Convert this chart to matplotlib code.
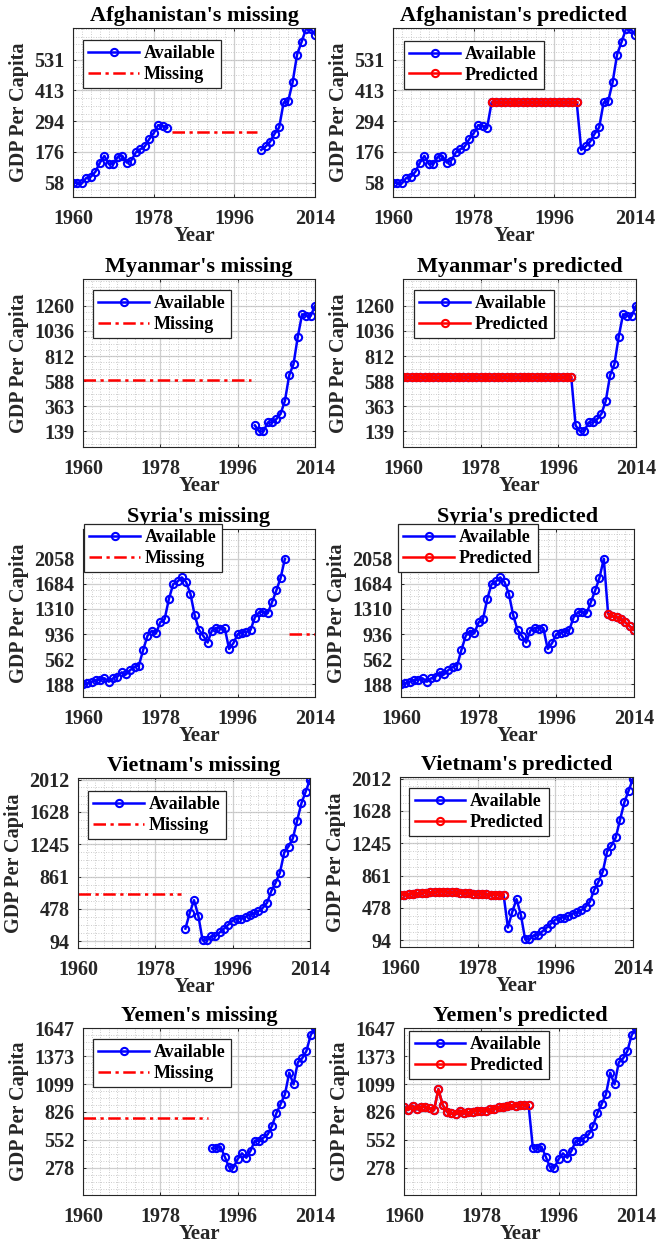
import numpy as np
import matplotlib
matplotlib.use('Agg')
import matplotlib.pyplot as plt
from matplotlib.ticker import AutoMinorLocator

nan = np.nan
years = np.arange(1960, 2015)
xticks = [1960, 1978, 1996, 2014]

# Afghanistan (1982-2001 missing)
afg_gdp = [58, 58, 56, 77, 81, 100, 135, 161, 129, 129, 158, 161, 135, 143, 174, 186,
           197, 225, 248, 279, 276, 269,
           nan, nan, nan, nan, nan, nan, nan, nan, nan, nan,
           nan, nan, nan, nan, nan, nan, nan, nan, nan, nan,
           184, 197, 216, 246, 270, 366, 370, 443, 550, 598, 649, 649, 627]
afg_missing = 252
afg_pred = [366, 366, 366, 366, 366, 366, 366, 366, 366, 366,
            366, 366, 366, 366, 366, 366, 366, 366, 366, 366]
afg_yticks = [58, 176, 294, 413, 531]
afg_ylim = (3, 652)

# Myanmar (1960-1999 missing)
mmr_gdp = [nan, nan, nan, nan, nan, nan, nan, nan, nan, nan,
           nan, nan, nan, nan, nan, nan, nan, nan, nan, nan,
           nan, nan, nan, nan, nan, nan, nan, nan, nan, nan,
           nan, nan, nan, nan, nan, nan, nan, nan, nan, nan,
           193, 139, 139, 219, 219, 249, 297, 413, 641, 740, 986, 1185, 1171, 1171, 1260]
mmr_missing = 600
mmr_pred = [621, 621, 621, 621, 621, 621, 621, 621, 621, 621,
            621, 621, 621, 621, 621, 621, 621, 621, 621, 621,
            621, 621, 621, 621, 621, 621, 621, 621, 621, 621,
            621, 621, 621, 621, 621, 621, 621, 621, 621, 621]
mmr_yticks = [139, 363, 588, 812, 1036, 1260]
mmr_ylim = (0, 1500)

# Syria (2008-2014 missing)
syr_gdp = [188, 208, 228, 248, 258, 278, 228, 278, 302, 367, 337, 402, 451, 466, 700, 909,
           984, 949, 1113, 1158, 1461, 1680, 1720, 1780, 1710, 1536, 1217, 998, 909, 810,
           989, 1028, 1018, 1023, 715, 800, 934, 959, 969, 998, 1183, 1262, 1272, 1247,
           1411, 1585, 1774, 2058,
           nan, nan, nan, nan, nan, nan, nan]
syr_missing = 934
syr_pred = [1237, 1200, 1195, 1165, 1110, 1055, 1000]
syr_yticks = [188, 562, 936, 1310, 1684, 2058]
syr_ylim = (0, 2500)

# Vietnam (1960-1984 missing)
vnm_gdp = [nan, nan, nan, nan, nan, nan, nan, nan, nan, nan,
           nan, nan, nan, nan, nan, nan, nan, nan, nan, nan,
           nan, nan, nan, nan, nan,
           245, 428, 582, 400, 106, 106, 154, 154, 201, 245, 293, 340, 364, 364, 384,
           412, 424, 451, 491, 551, 690, 789, 908, 1146, 1218, 1313, 1524, 1730, 1869, 2012]
vnm_missing = 658
vnm_pred = [636, 636, 640, 645, 650, 655, 660, 663, 665, 666, 666, 665, 664,
            662, 659, 655, 650, 645, 642, 640, 638, 637, 636, 636, 637]
vnm_yticks = [94, 478, 861, 1245, 1628, 2012]
vnm_ylim = (15, 2030)

# Yemen (1960-1989 missing)
yem_gdp = [nan, nan, nan, nan, nan, nan, nan, nan, nan, nan,
           nan, nan, nan, nan, nan, nan, nan, nan, nan, nan,
           nan, nan, nan, nan, nan, nan, nan, nan, nan, nan,
           468, 468, 484, 386, 281, 278, 363, 419, 376, 445, 543, 543, 573, 605, 690,
           812, 903, 998, 1211, 1097, 1313, 1352, 1424, 1581, 1647]
yem_missing = 769
yem_pred = [877, 845, 887, 851, 877, 877, 861, 845, 1048, 894, 828, 812, 802, 838, 818,
            822, 828, 838, 838, 838, 851, 851, 874, 871, 884, 890, 884, 890, 894, 894]
yem_yticks = [278, 552, 826, 1099, 1373, 1647]
yem_ylim = (10, 1650)

plt.rcParams['font.family'] = ['Liberation Serif', 'DejaVu Serif']
plt.rcParams['font.weight'] = 'bold'

W, H = 661, 1245
fig = plt.figure(figsize=(W / 100, H / 100), dpi=100)

def add_ax(x0, y0, x1, y1):
    return fig.add_axes([x0 / W, 1 - y1 / H, (x1 - x0) / W, (y1 - y0) / H])

def setup(ax, title, yticks, ylim):
    ax.set_xlim(1960, 2014)
    ax.set_ylim(*ylim)
    ax.set_xticks(xticks)
    ax.set_yticks(yticks)
    ax.set_yticklabels([str(t) for t in yticks])
    ax.xaxis.set_minor_locator(AutoMinorLocator(9))
    ax.yaxis.set_minor_locator(AutoMinorLocator(4))
    ax.grid(which='major', color='#cfcfcf', lw=0.9)
    ax.grid(which='minor', color='#bdbdbd', lw=0.6, ls=(0, (1, 2)))
    ax.set_axisbelow(True)
    ax.tick_params(which='major', direction='in', length=2.5, width=0.7,
                   top=True, right=True, labelsize=14.5, colors='#262626')
    ax.tick_params(axis='x', which='major', pad=8.5)
    ax.tick_params(axis='y', which='major', pad=6)
    ax.tick_params(which='minor', length=0)
    for s in ax.spines.values():
        s.set_color('#262626')
        s.set_linewidth(0.8)
    ax.set_title(title, fontsize=16, fontweight='bold', pad=5)
    ax.set_xlabel('Year', fontsize=15, fontweight='bold', labelpad=-2, color='#262626')
    ax.set_ylabel('GDP Per Capita', fontsize=14.5, fontweight='bold', labelpad=4, color='#262626')

def legend(ax, anchor):
    leg = ax.legend(loc='upper left', bbox_to_anchor=anchor, fontsize=13,
                    handlelength=2.8, handletextpad=0.25, borderpad=0.3,
                    labelspacing=0.2, borderaxespad=0, fancybox=False,
                    framealpha=1, edgecolor='#262626')
    leg.get_frame().set_linewidth(0.9)

line_kw = dict(lw=1.8, marker='o', ms=5.2, mew=1.5, mfc='none')

def missing_panel(ax, name, gdp, level, yticks, ylim, anchor):
    gdp = np.array(gdp, dtype=float)
    miss = years[np.isnan(gdp)]
    ax.plot(years, gdp, color='#0000ff', label='Available', **line_kw)
    ax.plot([miss[0], miss[-1]], [level, level], color='#ff0000', lw=1.8,
            ls=(0, (5, 1.8, 1.3, 1.8)), label='Missing')
    setup(ax, name + "'s missing", yticks, ylim)
    legend(ax, anchor)

def predicted_panel(ax, name, gdp, pred, yticks, ylim, anchor):
    gdp = np.array(gdp, dtype=float)
    mask = np.isnan(gdp)
    full = gdp.copy()
    full[mask] = pred
    ax.plot(years, full, color='#0000ff', label='Available', **line_kw)
    ax.plot(years[mask], np.array(pred), color='#ff0000', label='Predicted', **line_kw)
    setup(ax, name + "'s predicted", yticks, ylim)
    legend(ax, anchor)

rows = [
    ('Afghanistan', afg_gdp, afg_missing, afg_pred, afg_yticks, afg_ylim,
     (73, 28, 315, 197), (393, 28, 635, 197), (0.041, 0.929), (0.045, 0.925)),
    ('Myanmar', mmr_gdp, mmr_missing, mmr_pred, mmr_yticks, mmr_ylim,
     (83, 279, 315, 447), (403, 279, 636, 447), (0.043, 0.935), (0.047, 0.935)),
    ('Syria', syr_gdp, syr_missing, syr_pred, syr_yticks, syr_ylim,
     (83, 529, 315, 697), (401, 529, 634, 697), (0.004, 1.03), (-0.013, 1.03)),
    ('Vietnam', vnm_gdp, vnm_missing, vnm_pred, vnm_yticks, vnm_ylim,
     (78, 778, 310, 948), (400, 777, 633, 947), (0.043, 0.924), (0.039, 0.935)),
    ('Yemen', yem_gdp, yem_missing, yem_pred, yem_yticks, yem_ylim,
     (83, 1028, 315, 1195), (404, 1028, 636, 1195), (0.043, 0.934), (0.022, 0.982)),
]

for name, gdp, level, pred, yt, yl, box1, box2, anc1, anc2 in rows:
    ax1 = add_ax(*box1)
    missing_panel(ax1, name, gdp, level, yt, yl, anc1)
    ax2 = add_ax(*box2)
    predicted_panel(ax2, name, gdp, pred, yt, yl, anc2)

fig.savefig('out.png', dpi=100)
